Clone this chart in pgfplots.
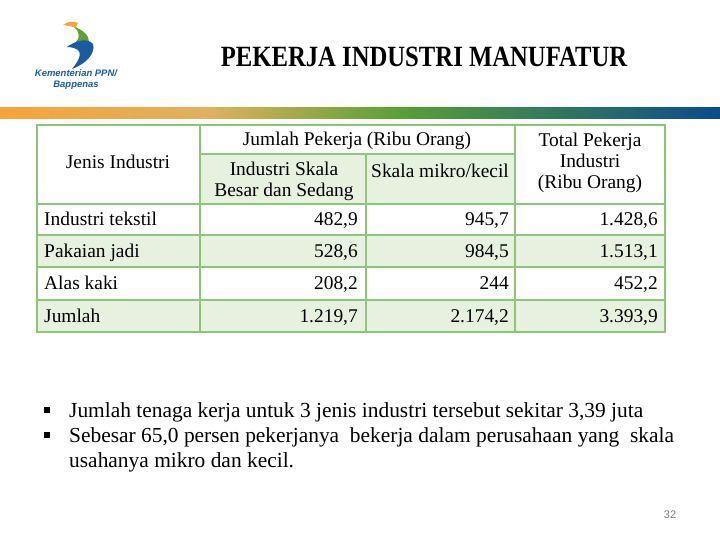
\documentclass[border=0pt]{standalone}
\usepackage{pgfplots}
\pgfplotsset{compat=1.18}
\usepackage{pgfplotstable}
\usepackage{fontspec}
\setmainfont{Liberation Serif}
\newfontfamily\titlefont{Liberation Serif}[FakeStretch=0.84]
\newfontfamily\logofont{Liberation Sans}
\definecolor{tblline}{HTML}{8DC57B}
\definecolor{cellgreen}{HTML}{E6F2DF}
\definecolor{bandorange}{HTML}{F6A43A}
\definecolor{bandtan}{HTML}{DFB15F}
\definecolor{bandgreen}{HTML}{58A035}
\definecolor{bandblue}{HTML}{0A4C8C}
\definecolor{logoblue}{HTML}{1B5C9E}
\definecolor{logogreen}{HTML}{5FA03A}
\definecolor{logoorange}{HTML}{F5A53A}

% jumlah pekerja (ribu orang)
\pgfplotstableread{
y   jenis               besar   mikro   total
219 {Industri tekstil}  482.9   945.7   1428.6
251 {Pakaian jadi}      528.6   984.5   1513.1
283 {Alas kaki}         208.2   244     452.2
316 {Jumlah}            1219.7  2174.2  3393.9
}\pekerja

\newcommand{\tblfont}{\fontsize{19.5}{22}\selectfont}

\begin{document}
\begin{tikzpicture}
\begin{axis}[
    scale only axis,
    width=720bp, height=540bp,
    xmin=0, xmax=720, ymin=0, ymax=540,
    y dir=reverse,
    axis lines=none,
    clip=false,
    cell/.style={only marks, mark=*, mark size=0pt,
        mark options={draw=none,fill=none},
        nodes near coords,
        every node near coord/.append style={anchor=#1, font=\tblfont,
            inner sep=0pt, text height=14pt, text depth=0pt, text=black}},
    numcell/.style={cell=east, point meta=explicit,
        nodes near coords={\pgfmathprintnumber[fixed, precision=1, use comma,
            1000 sep={.}, assume math mode=true]{\pgfplotspointmeta}}},
]
% background
\fill[white] (axis cs:0,0) rectangle (axis cs:720,540);

% gradient band
\shade[left color=bandorange, right color=bandtan] (axis cs:0,108) rectangle (axis cs:210,119);
\shade[left color=bandtan, right color=bandgreen] (axis cs:209.5,108) rectangle (axis cs:400,119);
\shade[left color=bandgreen, right color=bandblue] (axis cs:399.5,108) rectangle (axis cs:720,119);

% logo
\fill[logoorange] (axis cs:63,25) .. controls (axis cs:68,21) and (axis cs:74,21) .. (axis cs:78,23)
    .. controls (axis cs:76,26) and (axis cs:76,28) .. (axis cs:77,29)
    .. controls (axis cs:73,26) and (axis cs:68,26) .. (axis cs:63,25) -- cycle;
\fill[logogreen] (axis cs:74,27) .. controls (axis cs:81,29) and (axis cs:86,33) .. (axis cs:88,37)
    -- (axis cs:89,42) -- (axis cs:76,42)
    .. controls (axis cs:80,38) and (axis cs:80,32) .. (axis cs:74,27) -- cycle;
\fill[logoblue] (axis cs:67,47) .. controls (axis cs:75,41) and (axis cs:87,37) .. (axis cs:93,44)
    .. controls (axis cs:96,53) and (axis cs:86,64) .. (axis cs:72,69)
    .. controls (axis cs:79,61) and (axis cs:82,53) .. (axis cs:78,50)
    .. controls (axis cs:75,48) and (axis cs:71,47) .. (axis cs:67,47) -- cycle;
\node[text=logoblue, font=\logofont\bfseries\itshape\fontsize{9.5}{10}\selectfont, inner sep=0pt]
    at (axis cs:76,73) {Kementerian PPN/};
\node[text=logoblue, font=\logofont\bfseries\itshape\fontsize{9.5}{10}\selectfont, inner sep=0pt]
    at (axis cs:76,85) {Bappenas};

% title
\node[font=\titlefont\bfseries\fontsize{29.5}{32}\selectfont, inner sep=0pt]
    at (axis cs:424,57) {PEKERJA INDUSTRI MANUFATUR};

% table fills
\fill[cellgreen] (axis cs:200,154) rectangle (axis cs:515,204);
\fill[cellgreen] (axis cs:37,235) rectangle (axis cs:665,267);
\fill[cellgreen] (axis cs:37,300) rectangle (axis cs:665,332);

% table lines
\begin{scope}[draw=tblline, line width=2.5bp]
\draw (axis cs:37,125) rectangle (axis cs:665,332);
\draw (axis cs:200,154) -- (axis cs:515,154);
\draw (axis cs:37,204) -- (axis cs:665,204);
\draw (axis cs:37,235) -- (axis cs:665,235);
\draw (axis cs:37,267) -- (axis cs:665,267);
\draw (axis cs:37,300) -- (axis cs:665,300);
\draw (axis cs:200,125) -- (axis cs:200,332);
\draw (axis cs:366,154) -- (axis cs:366,332);
\draw (axis cs:515,125) -- (axis cs:515,332);
\end{scope}

% header text
\node[font=\tblfont, inner sep=0pt] at (axis cs:118,162) {Jenis Industri};
\node[font=\tblfont, inner sep=0pt] at (axis cs:357,141) {Jumlah Pekerja (Ribu Orang)};
\node[font=\tblfont, inner sep=0pt, align=center] at (axis cs:284,181)
    {Industri Skala\\[-1pt]Besar dan Sedang};
\node[font=\tblfont, inner sep=0pt] at (axis cs:440,171) {Skala mikro/kecil};
\node[font=\tblfont, inner sep=0pt, align=center] at (axis cs:590,163)
    {Total Pekerja\\[-1pt]Industri\\[-1pt](Ribu Orang)};

% data cells
\addplot[cell=west, point meta=explicit symbolic]
    table[x expr=44, y=y, meta=jenis] {\pekerja};
\addplot[numcell] table[x expr=358, y=y, meta=besar] {\pekerja};
\addplot[numcell] table[x expr=509, y=y, meta=mikro] {\pekerja};
\addplot[numcell] table[x expr=658, y=y, meta=total] {\pekerja};

% bullets
\fill (axis cs:43.5,407) rectangle (axis cs:49.5,413);
\fill (axis cs:43.5,432) rectangle (axis cs:49.5,438);
\begin{scope}[every node/.style={font=\fontsize{21.5}{25}\selectfont, inner sep=0pt, anchor=base west}]
\node at (axis cs:69,417) {Jumlah tenaga kerja untuk 3 jenis industri tersebut sekitar 3,39 juta};
\node at (axis cs:69,442) {Sebesar 65,0 persen pekerjanya\ \ bekerja dalam perusahaan yang\ \ skala};
\node at (axis cs:69,467) {usahanya mikro dan kecil.};
\end{scope}

% page number
\node[font=\logofont\fontsize{11}{12}\selectfont, text=gray, inner sep=0pt] at (axis cs:670,515) {32};
\end{axis}
\end{tikzpicture}
\end{document}
